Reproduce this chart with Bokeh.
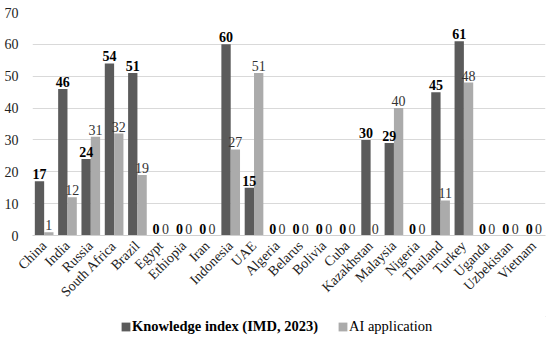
import math
from bokeh.plotting import figure
from bokeh.layouts import column
from bokeh.models import ColumnDataSource, FactorRange, Legend, LegendItem, Range1d, SingleIntervalTicker
from bokeh.transform import dodge
from bokeh.core.properties import value
from bokeh.embed import file_html
from bokeh.resources import INLINE

countries = ["China", "India", "Russia", "South Africa", "Brazil", "Egypt", "Ethiopia", "Iran",
             "Indonesia", "UAE", "Algeria", "Belarus", "Bolivia", "Cuba", "Kazakhstan", "Malaysia",
             "Nigeria", "Thailand", "Turkey", "Uganda", "Uzbekistan", "Vietnam"]
knowledge = [17, 46, 24, 54, 51, 0, 0, 0, 60, 15, 0, 0, 0, 0, 30, 29, 0, 45, 61, 0, 0, 0]
ai_app = [1, 12, 31, 32, 19, 0, 0, 0, 27, 51, 0, 0, 0, 0, 0, 40, 0, 11, 48, 0, 0, 0]
series_names = ["Knowledge index (IMD, 2023)", "AI application"]

DARK = "#5b5b5b"
LIGHT = "#ababab"
FONT = "Liberation Serif"

src = ColumnDataSource(dict(
    c=countries, k=knowledge, a=ai_app,
    kl=[str(v) for v in knowledge], al=[str(v) for v in ai_app],
))

p = figure(x_range=FactorRange(*countries, range_padding=0), y_range=Range1d(0, 70),
           width=550, height=316, output_backend="svg", toolbar_location=None,
           min_border_left=32, min_border_right=5, min_border_top=12, min_border_bottom=81)
p.outline_line_color = None
p.background_fill_color = "white"

p.vbar(x=dodge("c", -0.2, range=p.x_range), top="k", width=0.4, source=src,
       fill_color=DARK, line_color=None)
p.vbar(x=dodge("c", 0.2, range=p.x_range), top="a", width=0.4, source=src,
       fill_color=LIGHT, line_color=None)

p.text(x=dodge("c", -0.2, range=p.x_range), y="k", text="kl", source=src,
       text_font=value(FONT), text_font_size="14px", text_font_style="bold",
       text_align="center", text_baseline="bottom", y_offset=-2, text_color="black")
p.text(x=dodge("c", 0.2, range=p.x_range), y="a", text="al", source=src,
       text_font=value(FONT), text_font_size="14px",
       text_align="center", text_baseline="bottom", y_offset=-2, text_color="#333333")

p.yaxis.ticker = SingleIntervalTicker(interval=10)
p.yaxis.axis_line_color = None
p.yaxis.major_tick_line_color = None
p.yaxis.minor_tick_line_color = None
p.yaxis.major_label_text_font = FONT
p.yaxis.major_label_text_font_size = "14px"
p.yaxis.major_label_text_color = "#222222"
p.yaxis.major_label_standoff = 8

p.xaxis.axis_line_color = "#d0d0d0"
p.xaxis.major_tick_line_color = None
p.xaxis.major_label_orientation = math.pi / 4
p.xaxis.major_label_text_font = FONT
p.xaxis.major_label_text_font_size = "14px"
p.xaxis.major_label_text_color = "#222222"
p.xaxis.major_label_standoff = 2

p.xgrid.grid_line_color = None
p.ygrid.grid_line_color = "#d9d9d9"
p.ygrid.grid_line_width = 1

# legend strip (glyph renderers kept outside the visible range)
lf = figure(width=550, height=22, output_backend="svg", toolbar_location=None,
            x_range=Range1d(0, 1), y_range=Range1d(0, 1),
            x_axis_location=None, y_axis_location=None,
            min_border=0)
lf.outline_line_color = None
lf.grid.visible = False
hidden = ColumnDataSource(dict(x=[5], top=[5]))
g1 = lf.vbar(x="x", top="top", bottom=4, width=0.1, source=hidden, fill_color=DARK, line_color=None)
g2 = lf.vbar(x="x", top="top", bottom=4, width=0.1, source=hidden, fill_color=LIGHT, line_color=None)

leg1 = Legend(items=[LegendItem(label=series_names[0], renderers=[g1])],
              location=(88, 3), orientation="horizontal",
              label_text_font=FONT, label_text_font_size="14.5px", label_text_font_style="bold",
              label_text_color="black",
              glyph_width=11, glyph_height=11, background_fill_alpha=0, border_line_color=None,
              padding=0, margin=0, label_standoff=1)
leg2 = Legend(items=[LegendItem(label=series_names[1], renderers=[g2])],
              location=(305, 3), orientation="horizontal",
              label_text_font=FONT, label_text_font_size="14.5px",
              label_text_color="black",
              glyph_width=11, glyph_height=11, background_fill_alpha=0, border_line_color=None,
              padding=0, margin=0, label_standoff=1)
lf.add_layout(leg1, "center")
lf.add_layout(leg2, "center")

layout = column(p, lf, spacing=0)
open("out.html", "w").write(file_html(layout, INLINE))
